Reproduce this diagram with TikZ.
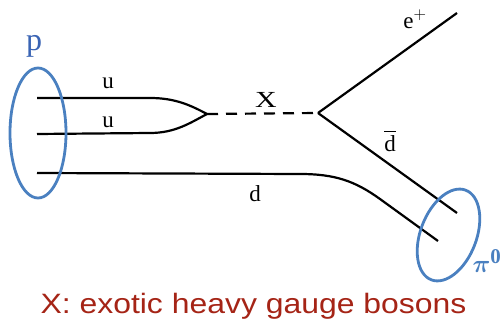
\documentclass[tikz,border=0pt]{standalone}
\usepackage{fontspec}
\setmainfont{Liberation Serif}
\newfontfamily\capfont{Liberation Sans}
\usepackage{amsmath,bm}
\definecolor{pblue}{RGB}{74,128,192}
\definecolor{pdark}{RGB}{58,100,180}
\definecolor{capred}{RGB}{165,36,22}
\begin{document}
\begin{tikzpicture}[x=1pt,y=-1pt,
  quark/.style={line width=2.2pt,black},
  boson/.style={line width=2.2pt,black,dash pattern=on 11pt off 8pt},
  hadron/.style={line width=2.8pt,pblue},
  lbl/.style={inner sep=0pt,font=\fontsize{23}{24}\selectfont}]
\useasboundingbox (0,0) rectangle (501,326);
% coordinates
\coordinate (u1s) at (37,98);
\coordinate (u2s) at (37,134);
\coordinate (ds) at (37,173);
\coordinate (merge) at (207,114);
\coordinate (vtx) at (318,113);
\coordinate (epe) at (457,13);
\coordinate (dbe) at (457,213);
\coordinate (de) at (438,241);
% quark lines
\draw[quark] (u1s) -- (150,98) .. controls (175,98) and (190,105) .. (merge);
\draw[quark] (u2s) -- (150,133) .. controls (175,133) and (190,123) .. (merge);
\draw[quark] (ds) -- (300,174) .. controls (335,174) and (355,181) .. (380,199) -- (de);
\draw[boson] (merge) -- (vtx);
\draw[quark] (vtx) -- (epe);
\draw[quark] (vtx) -- (dbe);
% hadrons
\draw[hadron] (38,133) ellipse [x radius=28, y radius=65];
\draw[hadron, rotate around={69:(448.5,235)}] (448.5,235) ellipse [x radius=48, y radius=28];
% labels
\node[lbl] (lu1) at (108,83) {u};
\node[lbl] (lu2) at (108,122) {u};
\node[lbl, xscale=1.3] (lX) at (266,100) {X};
\node[lbl] (le) at (415,19) {e$^{+}$};
\node[lbl] (ldb) at (390,141) {$\overline{\text{d}}$};
\node[lbl] (ld) at (255,194) {d};
\node[inner sep=0pt, text=pdark, font=\fontsize{32}{34}\selectfont] (lp) at (34,46) {p};
\node[inner sep=0pt, text=pblue, font=\fontsize{30}{32}\selectfont] (lpi) at (487,261) {$\bm{\pi}^{\mathbf{0}}$};
\node[inner sep=0pt, anchor=base, text=capred, font=\capfont\fontsize{28}{30}\selectfont, xscale=1.14] (cap) at (253.5,313) {X: exotic heavy gauge bosons};
\end{tikzpicture}
\end{document}
